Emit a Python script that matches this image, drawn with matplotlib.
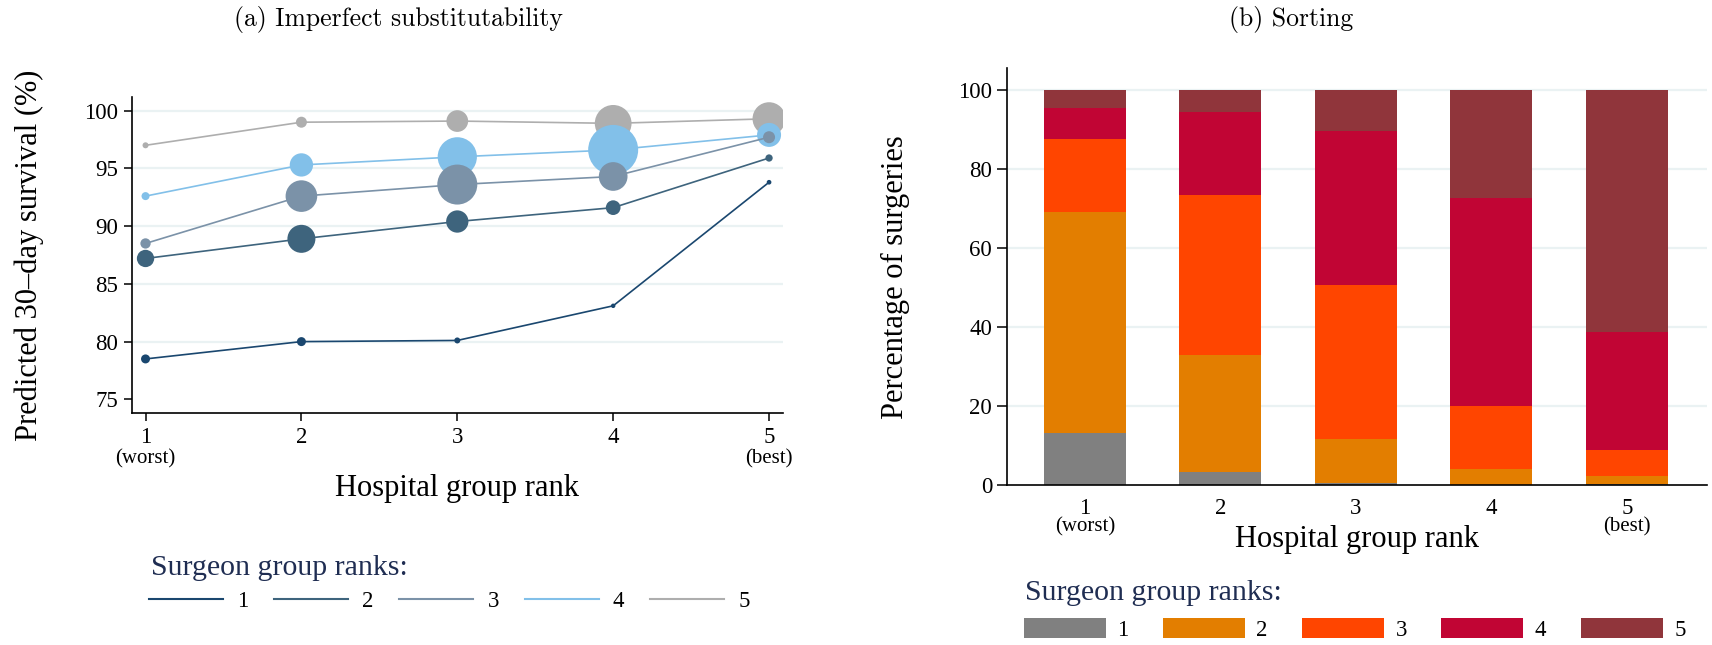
import matplotlib
matplotlib.use("Agg")
import matplotlib.pyplot as plt
import numpy as np
from matplotlib.patches import Patch
from matplotlib.lines import Line2D

plt.rcParams['font.family'] = ['Liberation Serif', 'DejaVu Serif']

# ---- data -------------------------------------------------------------
hospital_rank = [1, 2, 3, 4, 5]
surgeon_groups = ['1', '2', '3', '4', '5']

# (a) predicted 30-day survival (%) by surgeon group, per hospital group
surv_1 = [78.5, 80.0, 80.1, 83.1, 93.8]
surv_2 = [87.2, 88.9, 90.4, 91.6, 95.9]
surv_3 = [88.5, 92.6, 93.6, 94.3, 97.7]
surv_4 = [92.6, 95.3, 96.0, 96.6, 97.9]
surv_5 = [97.0, 99.0, 99.1, 98.9, 99.3]

# relative number of surgeries (marker weight)
weight_1 = [0.81, 0.81, 0.36, 0.20, 0.22]
weight_2 = [3.00, 7.84, 4.97, 2.16, 0.53]
weight_3 = [1.06, 10.0, 16.0, 8.24, 1.44]
weight_4 = [0.64, 5.43, 15.4, 25.0, 5.76]
weight_5 = [0.36, 1.21, 4.71, 13.5, 10.9]

# (b) share of surgeries (%) by surgeon group, per hospital group
share_1 = [13.2, 3.4, 0.6, 0.1, 0.3]
share_2 = [55.9, 29.6, 11.1, 4.0, 2.1]
share_3 = [18.5, 40.5, 39.0, 15.9, 6.6]
share_4 = [7.8, 21.0, 38.9, 52.6, 29.8]
share_5 = [4.6, 5.5, 10.4, 27.4, 61.2]

survival = [surv_1, surv_2, surv_3, surv_4, surv_5]
weights = [weight_1, weight_2, weight_3, weight_4, weight_5]
shares = [share_1, share_2, share_3, share_4, share_5]

line_colors = ['#1a476f', '#3e647d', '#7b92a8', '#82c0e9', '#aeaeae']
bar_colors = ['#808080', '#e37e00', '#ff4500', '#c10534', '#90353b']
grid_col = '#eaf2f3'
title_col = '#1f2d52'

# ---- figure -----------------------------------------------------------
fig = plt.figure(figsize=(17.12, 6.45), dpi=100)
axL = fig.add_axes([0.0769, 0.3592, 0.3806, 0.4909])
axR = fig.add_axes([0.5880, 0.2476, 0.4088, 0.6465])

TICK_FS = 16.5
LAB_FS = 22

# (a) connected scatter, bubbles sized by weight
x = np.array(hospital_rank)
for i in reversed(range(5)):
    z = 10 - i
    axL.plot(x, survival[i], color=line_colors[i], lw=1.2, zorder=z,
             solid_capstyle='butt')
    d_px = np.sqrt(np.array(weights[i])) * 10  # diameter in px
    axL.scatter(x, survival[i], s=(d_px * 0.72) ** 2, color=line_colors[i],
                edgecolors='none', zorder=z)

axL.set_xlim(0.911, 5.091)
axL.set_ylim(73.79, 101.21)
axL.set_yticks([75, 80, 85, 90, 95, 100])
axL.set_xticks(hospital_rank)
for v in [80, 85, 90, 95, 100]:
    axL.axhline(v, color=grid_col, lw=1.6, zorder=0)

# (b) stacked bars
bottom = np.zeros(5)
for i in range(5):
    axR.bar(x, shares[i], bottom=bottom, width=0.605, color=bar_colors[i],
            linewidth=0, zorder=2)
    bottom += np.array(shares[i])

axR.set_xlim(0.422, 5.587)
axR.set_ylim(0, 105.5)
axR.set_yticks([0, 20, 40, 60, 80, 100])
axR.set_xticks(hospital_rank)
for v in [20, 40, 60, 80, 100]:
    axR.axhline(v, color=grid_col, lw=1.6, zorder=0)

for ax in (axL, axR):
    ax.spines['top'].set_visible(False)
    ax.spines['right'].set_visible(False)
    for s in ('left', 'bottom'):
        ax.spines[s].set_linewidth(1.2)
    ax.tick_params(labelsize=TICK_FS, width=1.1)
    ax.set_xlabel('Hospital group rank', fontsize=LAB_FS)
    ax.xaxis.label.set_va('center')
    ax.yaxis.label.set_va('center')

axL.tick_params(axis='both', length=6, pad=3.5)
axL.tick_params(axis='x', pad=4)
axR.tick_params(axis='y', length=7, pad=3.5)
axR.tick_params(axis='x', length=0, pad=9)

axL.set_ylabel('Predicted 30–day survival (%)', fontsize=LAB_FS)
axR.set_ylabel('Percentage of surgeries', fontsize=LAB_FS)
axL.yaxis.set_label_coords(-0.1567, 0.5)
axR.yaxis.set_label_coords(-0.1582, 0.5)
axL.xaxis.set_label_coords(0.5, -0.236)
axR.xaxis.set_label_coords(0.5, -0.131)

# extra tick annotations
for ax, off in ((axL, -32.5), (axR, -30.0)):
    for xv, txt in ((1, '(worst)'), (5, '(best)')):
        ax.annotate(txt, xy=(xv, 0), xycoords=('data', 'axes fraction'),
                    xytext=(0, off), textcoords='offset points',
                    ha='center', va='center', fontsize=15)

# panel titles
fig.text(0.2325, 0.970, '(a) Imperfect substitutability', family='cmr10',
         fontsize=18.5, ha='center', va='center')
fig.text(0.754, 0.970, '(b) Sorting', family='cmr10',
         fontsize=18.5, ha='center', va='center')

# legends
fig.text(0.0882, 0.1194, 'Surgeon group ranks:', fontsize=21.5, color=title_col,
         ha='left', va='center')
fig.text(0.5987, 0.0806, 'Surgeon group ranks:', fontsize=21.5, color=title_col,
         ha='left', va='center')

line_handles = [Line2D([], [], color=c, lw=1.5) for c in line_colors]
fig.legend(line_handles, surgeon_groups, loc='center left',
           bbox_to_anchor=(0.087, 0.0682), ncol=5, frameon=False,
           fontsize=TICK_FS, handlelength=3.23, handletextpad=0.62,
           columnspacing=1.12, borderpad=0, borderaxespad=0)

bar_handles = [Patch(facecolor=c, edgecolor='none') for c in bar_colors]
fig.legend(bar_handles, surgeon_groups, loc='center left',
           bbox_to_anchor=(0.598, 0.024), ncol=5, frameon=False,
           fontsize=TICK_FS, handlelength=3.58, handleheight=0.96,
           handletextpad=0.5, columnspacing=1.5, borderpad=0, borderaxespad=0)

fig.savefig('out.png', dpi=100)
